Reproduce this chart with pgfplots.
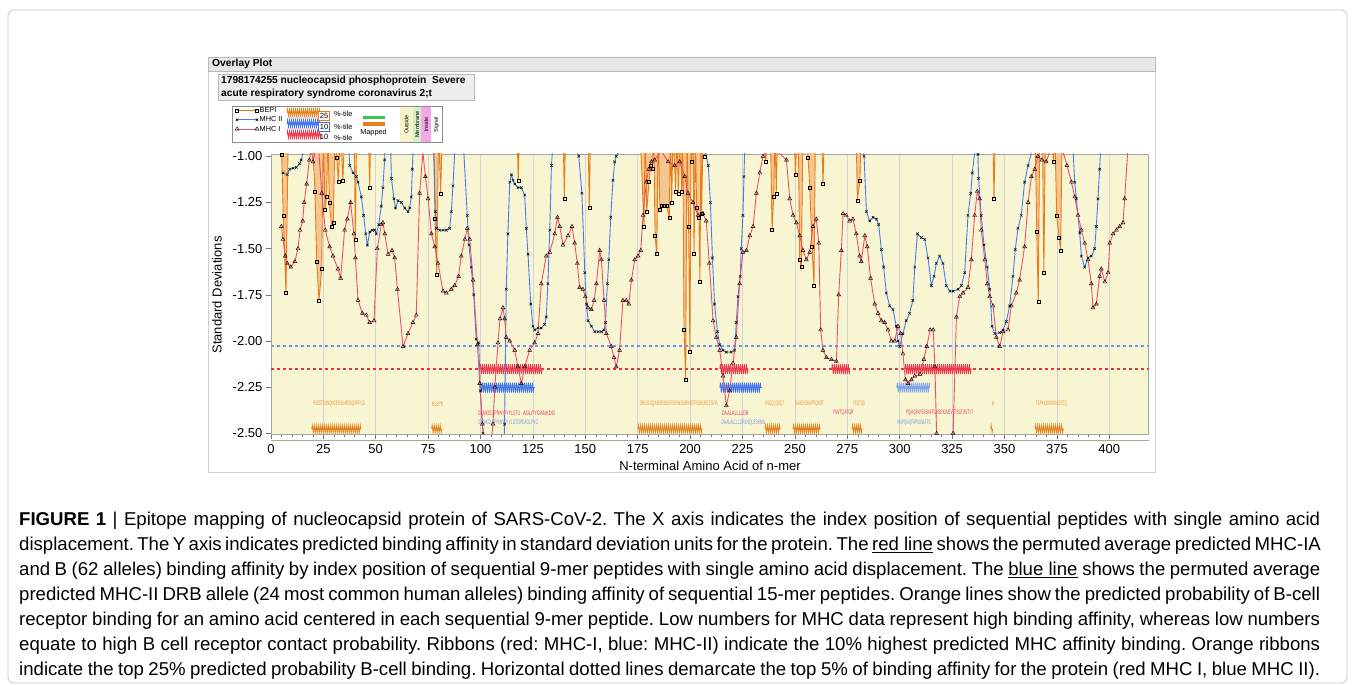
\documentclass[border=0pt]{standalone}
\usepackage{fontspec}
\setmainfont{Liberation Sans}
\setsansfont{Liberation Sans}
\usepackage{graphicx}
\usepackage{pgfplots}
\pgfplotsset{compat=1.18}
\usetikzlibrary{decorations.pathmorphing}
\definecolor{bgY}{RGB}{248,245,210}
\definecolor{redL}{RGB}{240,80,105}
\definecolor{blueL}{RGB}{70,125,235}
\definecolor{orangeL}{RGB}{232,125,25}
\definecolor{orangeF}{RGB}{245,198,145}
\definecolor{ribRed}{RGB}{236,58,76}
\definecolor{ribBlue}{RGB}{60,112,236}
\definecolor{ribBlueL}{RGB}{130,165,235}
\definecolor{ribOrange}{RGB}{230,130,30}
\definecolor{dashBlue}{RGB}{100,150,242}
\definecolor{dashRed}{RGB}{232,52,62}
\definecolor{labRed}{RGB}{232,60,82}
\definecolor{labBlue}{RGB}{120,150,222}
\definecolor{labOrange}{RGB}{236,150,60}
\definecolor{mapGreen}{RGB}{60,200,80}
\pgfplotsset{
  bepi/.style={draw=orangeL, line width=0.9pt, fill=orangeF, mark=square, mark size=1.5pt, mark options={solid, draw=black, fill=none, line width=0.45pt}},
  ribbon/.style={forget plot, no markers, line width=0.8pt, decorate, decoration={zigzag, segment length=2pt, amplitude=#1}}
}
\begin{document}
\frenchspacing
\begin{tikzpicture}
\begin{scope}[x=1pt,y=1pt]
\path[use as bounding box] (0,0) rectangle (1355,685);
\fill[white] (0,0) rectangle (1355,685);
\draw[black!22, rounded corners=6pt, line width=0.8pt] (8,2) rectangle (1347,675);
\draw[black!18] (208.5,213) rectangle (1155,628);
\filldraw[fill=black!9, draw=black!28] (208.5,614) rectangle (1155,628);
\node[anchor=west, inner sep=0pt, font=\bfseries\fontsize{10.3}{12}\selectfont] at (212,621) {Overlay Plot};
\filldraw[fill=black!7, draw=black!28] (218,585) rectangle (474,611);
\node[anchor=west, inner sep=0pt, font=\bfseries\fontsize{10.2}{12}\selectfont] at (221,604.5) {1798174255 nucleocapsid phosphoprotein\ \ Severe};
\node[anchor=west, inner sep=0pt, font=\bfseries\fontsize{10.2}{12}\selectfont] at (221,591.5) {acute respiratory syndrome coronavirus 2;t};
% legend box
\filldraw[fill=white, draw=black!45] (232,542.7) rectangle (442,578.3);
\fill[fill={rgb,255:red,246;green,244;blue,200}] (400,543.2) rectangle (413,577.8);
\fill[fill={rgb,255:red,214;green,238;blue,200}] (413,543.2) rectangle (421,577.8);
\fill[fill={rgb,255:red,242;green,168;blue,230}] (421,543.2) rectangle (431,577.8);
\node[rotate=90, inner sep=0pt, font=\fontsize{5.5}{6}\selectfont] at (406.5,560.5) {Outside};
\node[rotate=90, inner sep=0pt, font=\fontsize{5.5}{6}\selectfont] at (417.2,560.5) {Membrane};
\node[rotate=90, inner sep=0pt, font=\fontsize{5.5}{6}\selectfont] at (426.2,560.5) {Inside};
\node[rotate=90, inner sep=0pt, font=\fontsize{5.5}{6}\selectfont] at (436.5,560.5) {Signal};
\draw[ribOrange, line width=0.8pt, decorate, decoration={zigzag, segment length=2pt, amplitude=3.4pt}] (287,572.5) -- (321,572.5);
\draw[ribBlue, line width=0.8pt, decorate, decoration={zigzag, segment length=2pt, amplitude=3.4pt}] (287,561.5) -- (321,561.5);
\draw[ribRed, line width=0.8pt, decorate, decoration={zigzag, segment length=2pt, amplitude=3.4pt}] (287,550.5) -- (321,550.5);
\node[draw=orangeL, fill=white, inner sep=0.6pt, minimum width=11pt, minimum height=9pt, font=\fontsize{7.5}{7.5}\selectfont] at (324,569.5) {25};
\node[draw=ribBlue, fill=white, inner sep=0.6pt, minimum width=11pt, minimum height=9pt, font=\fontsize{7.5}{7.5}\selectfont] at (324,558.5) {10};
\node[inner sep=0.6pt, font=\fontsize{7.5}{7.5}\selectfont] at (324,547.8) {10};
\node[anchor=west, inner sep=0pt, font=\fontsize{7.3}{8}\selectfont] at (334,571.5) {\%-tile};
\node[anchor=west, inner sep=0pt, font=\fontsize{7.3}{8}\selectfont] at (334,558) {\%-tile};
\node[anchor=west, inner sep=0pt, font=\fontsize{7.3}{8}\selectfont] at (334,546.8) {\%-tile};
\draw[mapGreen, line width=3.5pt] (363,567.3) -- (385,567.3);
\draw[orangeL, line width=3.5pt] (363,561) -- (385,561);
\node[inner sep=0pt, font=\fontsize{7.3}{8}\selectfont] at (373.5,552) {Mapped};
\draw[black!35] (271,245) -- (1149,245);
\end{scope}
\begin{axis}[
  at={(270.9pt,251pt)}, anchor=south west,
  scale only axis, width=877.8pt, height=280pt,
  xmin=0, xmax=418.8, ymin=-2.5035, ymax=-0.9876,
  axis background/.style={fill=bgY},
  xtick={0,25,...,400}, minor x tick num=4,
  ytick={-2.5,-2.25,-2,-1.75,-1.5,-1.25,-1},
  xmajorgrids, major grid style={draw=black!17, line width=0.7pt},
  tick align=outside, tick pos=left,
  major tick length=5pt, minor tick length=3pt,
  every tick/.style={black!55, line width=0.5pt},
  axis line style={black!35, line width=0.7pt},
  /pgf/number format/assume math mode=true,
  xticklabel style={font=\fontsize{13}{13}\selectfont, yshift=-2pt},
  yticklabel style={font=\fontsize{13}{13}\selectfont, /pgf/number format/fixed, /pgf/number format/fixed zerofill, /pgf/number format/precision=2},
  scaled y ticks=false,
  legend style={at={(-0.041,1.1710)}, anchor=north west, draw=none, fill=none, font=\fontsize{7.3}{8}\selectfont, row sep=0.6pt, inner sep=0pt, nodes={inner sep=0.8pt, text height=5.5pt, text depth=1.5pt}},
  legend cell align=left,
  legend image code/.code={\draw[mark repeat=2,mark phase=1] plot coordinates {(0pt,0pt) (10pt,0pt) (20pt,0pt)};},
]
% ---- BEPI (orange) ----
\addplot[bepi] coordinates {(3.5,-0.85)(5.15,-0.99)(5.9,-1.32)(7.2,-1.74)(8.3,-0.85)};
\addlegendentry{BEPI}
\addplot[bepi, forget plot] coordinates {(19.5,-0.85)(21.04,-1.19)(21.85,-1.57)(22.95,-1.78)(24.24,-1.61)(25.0,-0.85)(25.81,-1.29)(26.6,-1.22)(27.2,-0.85)(27.86,-1.25)(29.0,-1.38)(29.8,-1.36)(30.6,-0.85)(31.4,-1.01)(32.2,-1.14)(33.2,-0.85)(34.3,-1.13)(35.3,-0.85)};
\addplot[bepi, forget plot] coordinates {(39.7,-0.85)(40.3,-1.45)(40.9,-0.85)};
\addplot[bepi, forget plot] coordinates {(46.5,-0.85)(47.1,-1.17)(47.7,-0.85)};
\addplot[bepi, forget plot] coordinates {(77.5,-0.85)(78.3,-1.34)(79.1,-1.64)(80.0,-0.85)(81.0,-1.20)(81.8,-0.85)};
\addplot[bepi, forget plot] coordinates {(117.4,-0.85)(118.0,-1.13)(118.6,-0.85)};
\addplot[bepi, forget plot] coordinates {(139.4,-0.85)(140.0,-1.23)(140.6,-0.85)};
\addplot[bepi, forget plot] coordinates {(151.3,-0.85)(151.9,-1.28)(152.5,-0.85)};
\addplot[bepi, forget plot] coordinates {(176.1,-0.85)(178.0,-1.38)(178.6,-0.85)(179.3,-1.30)(180.4,-1.14)(181.2,-1.05)(182.0,-1.07)(182.6,-0.85)(183.3,-1.43)(184.1,-1.53)(184.8,-0.85)(185.6,-1.29)(186.4,-1.27)(187.2,-1.27)(188.0,-1.27)(188.8,-1.27)(190.1,-1.33)(190.6,-0.85)(191.2,-1.25)(191.9,-0.85)(193.1,-1.19)(193.7,-0.85)(194.4,-1.20)(195.2,-0.85)(196.0,-1.19)(196.5,-0.85)(197.1,-1.94)(197.9,-2.21)(198.5,-0.85)(199.3,-1.38)(199.9,-2.06)(200.5,-0.85)(200.8,-1.03)(201.4,-0.85)(201.9,-1.53)(202.5,-0.85)(203.1,-1.28)(204.2,-1.33)(204.7,-1.68)(205.2,-0.85)(205.5,-1.31)(206.2,-0.85)(207.1,-1.00)(207.6,-0.85)};
\addplot[bepi, forget plot] coordinates {(235.4,-0.85)(236.1,-1.03)(237.0,-0.85)(238.3,-0.85)(239.1,-1.40)(239.9,-1.22)(240.5,-0.85)(241.1,-1.20)(241.8,-0.85)};
\addplot[bepi, forget plot] coordinates {(249.5,-0.85)(250.3,-1.10)(251.0,-0.85)(251.6,-0.85)(252.3,-1.56)(253.1,-1.60)(253.8,-0.85)(255.5,-0.85)(256.3,-1.01)(257.1,-1.17)(258.2,-1.49)(259.1,-1.70)(259.8,-0.85)(262.7,-0.85)(263.4,-1.15)(264.1,-0.85)};
\addplot[bepi, forget plot] coordinates {(279.2,-0.85)(279.8,-1.24)(281.0,-1.13)(281.6,-0.85)};
\addplot[bepi, forget plot] coordinates {(344.4,-0.85)(345.0,-1.23)(345.6,-0.85)};
\addplot[bepi, forget plot] coordinates {(364.6,-0.85)(365.4,-1.41)(366.1,-1.79)(366.8,-0.85)(368.1,-0.85)(368.8,-1.63)(369.5,-0.85)(372.6,-0.85)(373.3,-1.03)(374.0,-0.85)(374.9,-1.32)(376.0,-1.44)(376.8,-1.51)(377.5,-0.85)};
% ---- threshold lines ----
\addplot[forget plot, no markers, dashBlue, line width=1.1pt, dash pattern=on 3pt off 3pt] coordinates {(0,-2.027)(418.8,-2.027)};
\addplot[forget plot, no markers, dashRed, line width=1.2pt, dash pattern=on 3pt off 3pt] coordinates {(0,-2.152)(418.8,-2.152)};
% ---- ribbons ----
\addplot[ribbon=5pt, ribRed] coordinates {(99.7,-2.152)(129.3,-2.152)};
\addplot[ribbon=5pt, ribRed] coordinates {(214.2,-2.152)(227.6,-2.152)};
\addplot[ribbon=5pt, ribRed] coordinates {(267.6,-2.152)(276.3,-2.152)};
\addplot[ribbon=5pt, ribRed] coordinates {(302.5,-2.152)(334.4,-2.152)};
\addplot[ribbon=5pt, ribBlue] coordinates {(99.7,-2.252)(125.9,-2.252)};
\addplot[ribbon=5pt, ribBlue] coordinates {(214.2,-2.252)(234.2,-2.252)};
\addplot[ribbon=5pt, ribBlueL] coordinates {(298.6,-2.252)(314.4,-2.252)};
\addplot[ribbon=3.6pt, ribOrange] coordinates {(19.5,-2.476)(43.3,-2.476)};
\addplot[ribbon=3.6pt, ribOrange] coordinates {(76.7,-2.476)(81.5,-2.476)};
\addplot[ribbon=3.6pt, ribOrange] coordinates {(175.1,-2.476)(206.1,-2.476)};
\addplot[ribbon=3.6pt, ribOrange] coordinates {(235.7,-2.476)(243.3,-2.476)};
\addplot[ribbon=3.6pt, ribOrange] coordinates {(249.1,-2.476)(262.3,-2.476)};
\addplot[ribbon=3.6pt, ribOrange] coordinates {(277.2,-2.476)(282.3,-2.476)};
\addplot[ribbon=3.6pt, ribOrange] coordinates {(343.4,-2.476)(344.4,-2.476)};
\addplot[ribbon=3.6pt, ribOrange] coordinates {(364.6,-2.476)(378.4,-2.476)};
% ---- MHC II (blue) ----
\addplot[blueL, line width=0.9pt, mark=x, mark size=1.8pt, mark options={solid, black, line width=0.5pt}] coordinates {
(5.78,-1.09)(7.86,-1.10)(8.95,-1.07)(10.53,-1.065)(12.11,-1.06)(13.70,-1.04)(14.49,-1.02)(15.28,-0.98)(16.37,-0.85)(36.64,-0.85)(37.62,-1.05)(39.21,-1.09)(40.79,-1.11)(41.58,-1.14)(43.16,-1.22)(44.25,-1.32)(45.24,-1.42)(46.03,-1.48)(47.12,-1.41)(48.40,-1.40)(49.49,-1.40)(50.28,-1.42)(51.47,-1.37)(52.65,-1.27)(53.45,-1.17)(54.24,-1.02)(54.93,-0.85)(56.91,-0.85)(57.50,-1.12)(58.69,-1.23)(59.48,-1.28)(60.66,-1.24)(62.25,-1.25)(63.83,-1.28)(65.41,-1.30)(66.20,-1.28)(66.99,-1.22)(67.49,-1.07)(67.78,-0.98)(68.47,-0.85)(77.47,-0.85)(78.46,-1.30)(78.96,-1.39)(80.54,-1.40)(82.12,-1.40)(83.70,-1.40)(85.29,-1.39)(86.08,-1.30)(86.87,-1.16)(87.66,-0.98)(88.25,-0.85)(91.32,-0.85)(92.01,-0.97)(93.69,-1.32)(94.48,-1.48)(95.57,-1.60)(96.75,-1.75)(97.94,-1.99)(99.13,-2.01)(99.92,-2.27)(101.20,-2.50)(101.90,-2.62)(111.09,-2.62)(111.49,-2.45)(112.28,-1.72)(113.07,-1.42)(113.96,-1.14)(114.75,-1.10)(115.54,-1.13)(116.33,-1.15)(117.91,-1.17)(119.50,-1.17)(121.08,-1.21)(121.87,-1.39)(122.66,-1.53)(123.95,-1.80)(125.04,-1.92)(125.83,-1.94)(127.41,-1.93)(128.99,-1.93)(130.57,-1.91)(131.36,-1.87)(132.15,-1.69)(133.05,-1.40)(133.84,-1.05)(134.33,-0.97)(135.00,-0.85)(145.40,-0.85)(145.90,-0.97)(146.89,-1.00)(148.37,-1.20)(149.76,-1.63)(150.55,-1.80)(151.34,-1.89)(152.92,-1.92)(154.51,-1.95)(156.18,-1.95)(157.77,-1.95)(158.95,-1.94)(159.65,-1.90)(160.54,-1.69)(161.23,-1.56)(162.12,-1.33)(163.21,-1.13)(164.00,-1.03)(164.78,-1.00)(166.37,-0.97)(167.20,-0.85)(206.20,-0.85)(207.20,-0.97)(208.68,-1.05)(209.68,-1.25)(210.67,-1.55)(211.66,-1.80)(213.04,-1.95)(214.13,-2.02)(215.71,-2.05)(217.29,-2.06)(219.66,-2.06)(221.24,-2.05)(222.04,-1.90)(222.83,-1.76)(223.92,-1.65)(224.41,-1.50)(225.20,-1.32)(225.70,-1.11)(226.00,-0.98)(226.70,-0.85)(282.20,-0.85)(283.00,-1.00)(284.13,-1.30)(285.72,-1.35)(287.30,-1.33)(288.88,-1.34)(289.97,-1.37)(291.26,-1.505)(292.34,-1.60)(293.63,-1.74)(295.21,-1.81)(296.79,-1.83)(298.37,-1.92)(299.17,-2.00)(299.96,-2.03)(301.54,-1.96)(303.13,-1.89)(304.71,-1.85)(306.29,-1.78)(307.18,-1.60)(308.46,-1.42)(310.34,-1.44)(311.93,-1.45)(313.51,-1.55)(315.09,-1.70)(316.38,-1.65)(317.46,-1.58)(319.04,-1.54)(320.63,-1.58)(322.21,-1.70)(323.89,-1.73)(325.47,-1.73)(327.84,-1.72)(329.43,-1.70)(331.01,-1.63)(332.58,-1.32)(333.87,-1.20)(334.66,-1.09)(335.75,-0.98)(336.50,-0.90)(337.34,-0.99)(337.63,-1.12)(338.92,-1.32)(340.20,-1.48)(341.78,-1.60)(342.97,-1.72)(344.06,-1.92)(345.35,-1.96)(347.71,-1.955)(349.30,-1.94)(350.88,-1.895)(352.46,-1.81)(354.04,-1.65)(355.13,-1.505)(356.42,-1.39)(357.99,-1.32)(359.58,-1.14)(361.26,-1.05)(362.85,-0.98)(363.60,-0.85)(382.20,-0.85)(382.72,-0.97)(383.51,-1.14)(384.30,-1.23)(385.88,-1.415)(386.68,-1.54)(388.26,-1.60)(389.84,-1.55)(391.42,-1.54)(393.01,-1.50)(393.80,-1.38)(394.59,-1.23)(395.38,-1.07)(395.87,-0.96)(396.60,-0.85)
};
\addlegendentry{MHC II}
% ---- MHC I (red) ----
\addplot[redL, line width=0.9pt, mark=triangle, mark size=2.2pt, mark options={solid, draw=black, fill=none, line width=0.45pt}] coordinates {
(4.99,-1.38)(5.78,-1.45)(6.87,-1.54)(7.86,-1.58)(9.44,-1.60)(11.42,-1.57)(12.90,-1.50)(13.89,-1.40)(15.18,-1.35)(15.87,-1.25)(17.06,-1.15)(18.34,-1.02)(19.33,-0.96)(20.12,-1.03)(21.31,-0.96)(22.79,-0.96)(24.28,-1.20)(25.96,-1.40)(28.03,-1.49)(29.62,-1.54)(31.99,-1.61)(33.27,-1.66)(35.15,-1.40)(36.44,-1.34)(38.02,-1.25)(39.60,-1.42)(40.30,-1.55)(41.58,-1.78)(43.66,-1.85)(45.53,-1.86)(47.12,-1.90)(49.19,-1.89)(50.78,-1.50)(52.65,-1.37)(53.45,-1.36)(54.34,-1.42)(55.92,-1.53)(57.80,-1.51)(59.08,-1.55)(60.37,-1.72)(63.04,-2.03)(65.41,-1.96)(67.78,-1.90)(69.36,-1.86)(70.95,-1.20)(72.53,-0.98)(73.72,-1.11)(75.00,-1.23)(76.58,-1.42)(78.17,-1.49)(79.75,-1.58)(82.12,-1.73)(83.70,-1.74)(86.08,-1.72)(87.66,-1.70)(89.54,-1.65)(90.82,-1.54)(92.50,-1.45)(93.69,-1.39)(94.87,-1.45)(96.46,-1.67)(98.54,-2.02)(99.62,-2.23)(100.91,-2.45)(102.39,-2.58)(104.86,-2.58)(105.95,-2.45)(106.84,-2.25)(108.32,-2.01)(109.31,-1.88)(110.70,-1.82)(111.49,-1.88)(112.28,-1.98)(113.96,-2.00)(116.33,-2.05)(117.91,-2.14)(119.50,-2.23)(121.08,-2.14)(123.45,-2.05)(125.83,-2.01)(127.41,-1.96)(128.99,-1.69)(131.36,-1.54)(133.05,-1.52)(135.42,-1.42)(136.70,-1.33)(137.79,-1.38)(139.37,-1.48)(141.74,-1.43)(143.63,-1.38)(144.91,-1.47)(146.20,-1.58)(147.28,-1.71)(148.87,-1.72)(150.05,-1.76)(151.34,-1.82)(152.92,-1.83)(154.20,-1.78)(155.29,-1.69)(156.87,-1.51)(157.67,-1.56)(158.95,-1.78)(160.04,-1.96)(162.41,-2.03)(163.70,-2.09)(164.78,-2.14)(166.37,-2.05)(167.95,-1.78)(169.53,-1.78)(170.72,-1.80)(172.00,-1.67)(173.59,-1.56)(175.17,-1.54)(176.45,-1.51)(177.54,-1.32)(179.13,-1.14)(180.21,-1.07)(181.50,-1.03)(183.08,-1.02)(186.24,-0.97)(189.51,-1.03)(192.67,-1.05)(195.04,-1.03)(197.42,-1.11)(199.00,-1.20)(201.37,-1.25)(203.74,-1.32)(206.12,-1.31)(207.70,-1.35)(209.18,-1.58)(210.96,-1.89)(212.54,-1.98)(214.13,-2.05)(215.71,-2.19)(217.29,-2.35)(218.87,-2.27)(220.46,-2.12)(222.04,-1.98)(223.62,-1.69)(225.20,-1.52)(226.88,-1.51)(228.46,-1.43)(230.05,-1.38)(231.63,-1.20)(233.21,-1.09)(234.79,-1.00)(237.36,-0.96)(240.33,-0.96)(245.97,-1.02)(247.55,-1.23)(249.13,-1.32)(250.72,-1.36)(252.30,-1.43)(253.88,-1.51)(255.46,-1.56)(257.05,-1.52)(258.63,-1.38)(260.21,-1.34)(261.40,-1.47)(262.29,-1.94)(263.38,-2.05)(265.05,-2.09)(267.43,-2.10)(269.80,-2.11)(270.89,-1.75)(272.17,-1.51)(272.96,-1.31)(274.54,-1.32)(276.13,-1.35)(277.71,-1.34)(279.29,-1.42)(280.87,-1.54)(281.66,-1.57)(283.35,-1.43)(284.53,-1.49)(286.11,-1.66)(288.09,-1.80)(289.67,-1.85)(291.26,-1.89)(292.84,-1.90)(294.42,-1.94)(296.00,-2.00)(297.59,-2.00)(299.17,-1.92)(300.45,-1.96)(301.54,-2.07)(302.73,-2.21)(304.02,-2.23)(305.60,-2.21)(307.18,-2.19)(309.70,-2.18)(311.50,-2.10)(312.90,-2.03)(314.50,-1.94)(316.00,-1.94)(316.80,-2.14)(317.60,-2.50)(318.50,-2.62)(324.90,-2.62)(325.50,-2.50)(327.05,-1.87)(328.63,-1.76)(330.21,-1.74)(332.58,-1.71)(334.17,-1.56)(335.75,-1.32)(337.04,-1.19)(338.12,-1.23)(338.92,-1.40)(340.60,-1.56)(341.78,-1.69)(342.97,-1.76)(344.55,-1.81)(346.13,-1.98)(347.71,-2.03)(349.30,-1.95)(351.67,-1.94)(353.25,-1.81)(355.63,-1.74)(357.21,-1.67)(359.58,-1.49)(361.26,-1.25)(362.85,-1.11)(364.43,-1.07)(365.90,-1.00)(367.90,-1.02)(369.90,-1.03)(371.80,-0.97)(374.80,-0.95)(377.80,-0.97)(379.80,-1.05)(381.93,-1.14)(383.51,-1.22)(385.09,-1.32)(386.68,-1.40)(388.26,-1.47)(389.84,-1.56)(391.42,-1.69)(392.21,-1.82)(393.80,-1.80)(395.38,-1.65)(396.17,-1.61)(397.85,-1.68)(399.43,-1.63)(400.22,-1.47)(401.80,-1.42)(403.39,-1.40)(404.97,-1.38)(406.55,-1.36)(407.34,-1.23)(408.92,-0.95)
};
\addlegendentry{MHC I}
% ---- sequence labels ----
\node[anchor=west, inner sep=0pt, text=labOrange] at (axis cs:20.1,-2.341) {\resizebox{52pt}{4.5pt}{PSDSTGSNQNGERSGARSKQRRPQG}};
\node[anchor=west, inner sep=0pt, text=labOrange] at (axis cs:76.7,-2.341) {\resizebox{11.5pt}{4.5pt}{NSSPD}};
\node[anchor=west, inner sep=0pt, text=labOrange] at (axis cs:175.8,-2.341) {\resizebox{78pt}{4.5pt}{SRGGSQASSRSSSRSRNSSRNSTPGSSRGTSPA}};
\node[anchor=west, inner sep=0pt, text=labOrange] at (axis cs:235.7,-2.341) {\resizebox{19pt}{4.5pt}{KGQQQQGQT}};
\node[anchor=west, inner sep=0pt, text=labOrange] at (axis cs:250,-2.341) {\resizebox{29pt}{4.5pt}{SAAEASKKPRQKRT}};
\node[anchor=west, inner sep=0pt, text=labOrange] at (axis cs:277.7,-2.341) {\resizebox{12pt}{4.5pt}{PEQTQG}};
\node[anchor=west, inner sep=0pt, text=labOrange] at (axis cs:343.9,-2.341) {\resizebox{2.8pt}{4.5pt}{P}};
\node[anchor=west, inner sep=0pt, text=labOrange] at (axis cs:364.9,-2.341) {\resizebox{31pt}{4.5pt}{TEPKKDKKKKADETQ}};
\node[anchor=west, inner sep=0pt, text=labRed] at (axis cs:98.8,-2.391) {\resizebox{42pt}{4.5pt}{GKMKDLSPRWYFYYLGTG}};
\node[anchor=west, inner sep=0pt, text=labRed] at (axis cs:120.2,-2.391) {\resizebox{32pt}{4.5pt}{AGLPYGANKDG}};
\node[anchor=west, inner sep=0pt, text=labRed] at (axis cs:215.1,-2.391) {\resizebox{26.6pt}{4.5pt}{DAALALLLLDR}};
\node[anchor=west, inner sep=0pt, text=labRed] at (axis cs:268,-2.391) {\resizebox{20.7pt}{4.5pt}{YNVTQAFGR}};
\node[anchor=west, inner sep=0pt, text=labRed] at (axis cs:303,-2.391) {\resizebox{67pt}{4.5pt}{PQIAQFAPSASAFFGMSRIGMEVTPSGTWLTYT}};
\node[anchor=west, inner sep=0pt, text=labBlue] at (axis cs:98.8,-2.442) {\resizebox{60pt}{4.5pt}{GKMKDLSPRWYFYYLGTGPEAGLPYG}};
\node[anchor=west, inner sep=0pt, text=labBlue] at (axis cs:215,-2.442) {\resizebox{43.4pt}{4.5pt}{DAALALLLLDRLNQLESKMS}};
\node[anchor=west, inner sep=0pt, text=labBlue] at (axis cs:298.7,-2.442) {\resizebox{33.7pt}{4.5pt}{HWPQIAQFAPSASAFFG}};
\end{axis}
\begin{scope}[x=1pt,y=1pt]
\node[rotate=90, inner sep=0pt, font=\fontsize{13}{13}\selectfont] at (217,390) {Standard Deviations};
\node[inner sep=0pt, font=\fontsize{13}{13}\selectfont] at (710,219) {N-terminal Amino Acid of n-mer};
\def\capfont{\fontsize{18.6}{22}\selectfont}
\node[anchor=base west, inner sep=0pt, font=\capfont] at (19,159) {\hbox to 1301pt{\textbf{FIGURE 1} | Epitope mapping of nucleocapsid protein of SARS-CoV-2. The X axis indicates the index position of sequential peptides with single amino acid}};
\node[anchor=base west, inner sep=0pt, font=\capfont] at (19,134) {\hbox to 1301pt{displacement. The Y axis indicates predicted binding affinity in standard deviation units for the protein. The \underline{red line} shows the permuted average predicted MHC-IA}};
\node[anchor=base west, inner sep=0pt, font=\capfont] at (19,109) {\hbox to 1301pt{and B (62 alleles) binding affinity by index position of sequential 9-mer peptides with single amino acid displacement. The \underline{blue line} shows the permuted average}};
\node[anchor=base west, inner sep=0pt, font=\capfont] at (19,84) {\hbox to 1301pt{predicted MHC-II DRB allele (24 most common human alleles) binding affinity of sequential 15-mer peptides. Orange lines show the predicted probability of B-cell}};
\node[anchor=base west, inner sep=0pt, font=\capfont] at (19,59) {\hbox to 1301pt{receptor binding for an amino acid centered in each sequential 9-mer peptide. Low numbers for MHC data represent high binding affinity, whereas low numbers}};
\node[anchor=base west, inner sep=0pt, font=\capfont] at (19,34) {\hbox to 1301pt{equate to high B cell receptor contact probability. Ribbons (red: MHC-I, blue: MHC-II) indicate the 10\% highest predicted MHC affinity binding. Orange ribbons}};
\node[anchor=base west, inner sep=0pt, font=\capfont] at (19,9) {\hbox to 1301pt{indicate the top 25\% predicted probability B-cell binding. Horizontal dotted lines demarcate the top 5\% of binding affinity for the protein (red MHC I, blue MHC II).}};
\end{scope}
\end{tikzpicture}
\end{document}
